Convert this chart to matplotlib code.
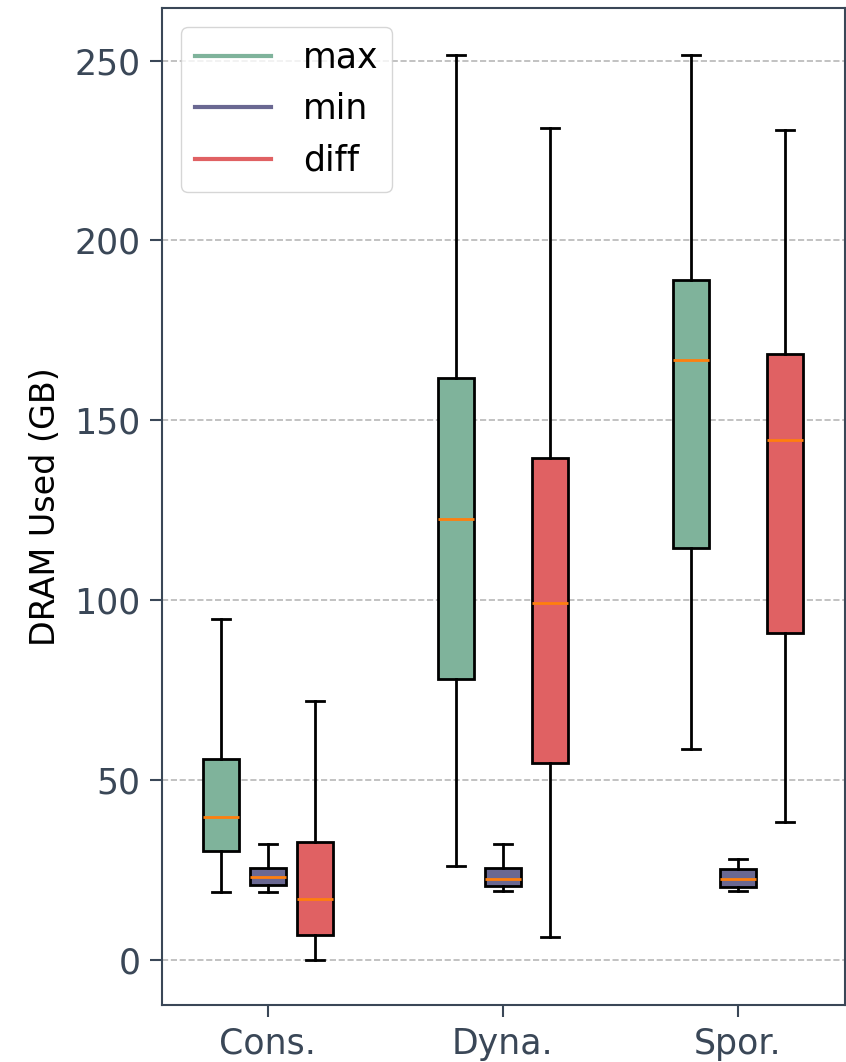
import matplotlib
matplotlib.use('Agg')
import matplotlib.pyplot as plt
from matplotlib.lines import Line2D

# Box statistics (GB)
categories = ["Cons.", "Dyna.", "Spor."]
series = ["max", "min", "diff"]

max_whislo = [18.9, 26.1, 58.5]
max_q1 = [30.2, 78.0, 114.6]
max_med = [39.7, 122.6, 166.8]
max_q3 = [55.8, 161.8, 189.0]
max_whishi = [94.6, 251.4, 251.4]

min_whislo = [18.9, 19.0, 19.0]
min_q1 = [20.9, 20.4, 20.3]
min_med = [23.0, 22.5, 22.5]
min_q3 = [25.6, 25.4, 25.2]
min_whishi = [32.2, 32.2, 28.0]

diff_whislo = [0.0, 6.4, 38.3]
diff_q1 = [7.0, 54.7, 90.7]
diff_med = [16.8, 99.3, 144.6]
diff_q3 = [32.8, 139.6, 168.4]
diff_whishi = [71.9, 231.1, 230.6]

colors = ['#7fb39b', '#6a6892', '#e06163']
slate = '#3a4757'

stats = {
    "max": (max_whislo, max_q1, max_med, max_q3, max_whishi),
    "min": (min_whislo, min_q1, min_med, min_q3, min_whishi),
    "diff": (diff_whislo, diff_q1, diff_med, diff_q3, diff_whishi),
}

matplotlib.rcParams.update({'font.size': 25})

fig = plt.figure(figsize=(8.46, 10.62), dpi=100)
ax = fig.add_axes([162 / 846, 57 / 1062, 683 / 846, 997 / 1062])

ax.yaxis.grid(True, linestyle='--', color='#b8b8b8', linewidth=1.2)
ax.set_axisbelow(True)

offsets = [-0.2, 0.0, 0.2]
handles = []
for k, name in enumerate(series):
    lo, q1, med, q3, hi = stats[name]
    bstats = [dict(whislo=lo[i], q1=q1[i], med=med[i], q3=q3[i], whishi=hi[i],
                   fliers=[]) for i in range(len(categories))]
    pos = [i + 1 + offsets[k] for i in range(len(categories))]
    ax.bxp(bstats, positions=pos, widths=0.155, patch_artist=True,
           showfliers=False, manage_ticks=False,
           boxprops=dict(facecolor=colors[k], edgecolor='black', linewidth=2),
           whiskerprops=dict(linewidth=2),
           capprops=dict(linewidth=2),
           medianprops=dict(color='#ff7f0e', linewidth=2))
    handles.append(Line2D([0], [0], color=colors[k], linewidth=3))

ax.set_xticks([1, 2, 3])
ax.set_xticklabels(categories)
ax.set_xlim(0.55, 3.455)
ax.set_ylim(-12.6, 264.6)
ax.set_yticks([0, 50, 100, 150, 200, 250])
ax.set_ylabel("DRAM Used (GB)", fontsize=24, labelpad=9)

ax.tick_params(colors=slate, labelsize=25, length=8.5, width=1.5, pad=7)
for s in ax.spines.values():
    s.set_color(slate)
    s.set_linewidth(1.5)

ax.legend(handles, series, loc='upper left', fontsize=25,
          handlelength=2.2, handletextpad=0.9, borderaxespad=0.55)

plt.savefig('out.png', dpi=100)
